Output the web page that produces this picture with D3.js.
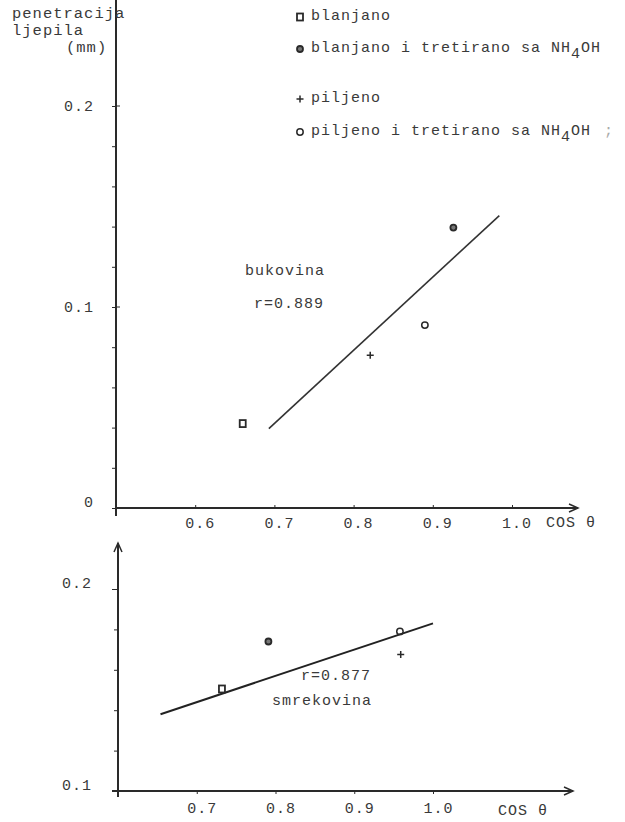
<!DOCTYPE html>
<html>
<head>
<meta charset="utf-8">
<script src="https://cdn.jsdelivr.net/npm/d3@7"></script>
<style>
  body { margin: 0; background: #fff; }
  svg text { font-family: "Liberation Mono", "DejaVu Sans Mono", monospace; fill: #3a3a3a; letter-spacing: 1px; }
  .axis path, .axis line { stroke: #2a2a2a; }
</style>
</head>
<body>
<div id="holder"></div>
<script>
// legend: marker type + label (subscript 4 in NH4OH)
const markerTypes = ["square", "dot", "plus", "ring"];
const legendLabels = ["blanjano", "blanjano i tretirano sa NH", "piljeno", "piljeno i tretirano sa NH"];
const legendHasSub = [false, true, false, true];

// bukovina (top panel)
const bukovinaX = [0.660, 0.926, 0.821, 0.890];
const bukovinaY = [0.042, 0.1395, 0.076, 0.091];
const bukovinaFitX = [0.693, 0.984];
const bukovinaFitY = [0.0395, 0.1455];

// smrekovina (bottom panel)
const smrekovinaX = [0.732, 0.791, 0.959, 0.958];
const smrekovinaY = [0.1505, 0.174, 0.1676, 0.179];
const smrekovinaFitX = [0.654, 1.0];
const smrekovinaFitY = [0.138, 0.183];

// ticks
const topXTicks = [0.6, 0.7, 0.8, 0.9, 1.0];
const topYMajor = [0, 0.1, 0.2];
const topYMinor = [0.02, 0.04, 0.06, 0.08, 0.12, 0.14, 0.16, 0.18];
const botXTicks = [0.7, 0.8, 0.9, 1.0];
const botYMajor = [0.1, 0.2];
const botYMinor = [0.12, 0.14, 0.16, 0.18];

const w = 625, h = 822;
const svg = d3.select('#holder').append('svg').attr('width', w).attr('height', h);

const fs = 15;

function drawMarker(g, type, x, y) {
    if (type === "square") {
        g.append('rect').attr('x', x - 3).attr('y', y - 3.5).attr('width', 6).attr('height', 7)
            .attr('fill', 'none').attr('stroke', '#2a2a2a').attr('stroke-width', 1.8);
    } else if (type === "dot") {
        g.append('circle').attr('cx', x).attr('cy', y).attr('r', 3)
            .attr('fill', '#777').attr('stroke', '#2a2a2a').attr('stroke-width', 1.8);
    } else if (type === "plus") {
        g.append('path').attr('d', `M${x - 3.5},${y}H${x + 3.5}M${x},${y - 3.5}V${y + 3.5}`)
            .attr('stroke', '#2a2a2a').attr('stroke-width', 1.5);
    } else {
        g.append('circle').attr('cx', x).attr('cy', y).attr('r', 3.2)
            .attr('fill', 'none').attr('stroke', '#2a2a2a').attr('stroke-width', 1.5);
    }
}

function arrowRight(x, y) {
    svg.append('path').attr('d', `M${x - 9},${y - 4}L${x},${y}L${x - 9},${y + 4}`)
        .attr('fill', 'none').attr('stroke', '#2a2a2a').attr('stroke-width', 1.5);
}
function arrowUp(x, y) {
    svg.append('path').attr('d', `M${x - 4},${y + 9}L${x},${y}L${x + 4},${y + 9}`)
        .attr('fill', 'none').attr('stroke', '#2a2a2a').attr('stroke-width', 1.5);
}

// ---------- top panel ----------
const xTop = d3.scaleLinear().domain([0.5, 1.0]).range([116, 512]);
const yTop = d3.scaleLinear().domain([0, 0.2]).range([508, 106]);

// axes lines
svg.append('line').attr('x1', 116).attr('x2', 578).attr('y1', yTop(0)).attr('y2', yTop(0))
    .attr('stroke', '#2a2a2a').attr('stroke-width', 2);
arrowRight(578, yTop(0));
svg.append('line').attr('x1', 116).attr('x2', 116).attr('y1', 0).attr('y2', yTop(0) + 8)
    .attr('stroke', '#2a2a2a').attr('stroke-width', 2);

svg.append('g').attr('class', 'axis').attr('transform', `translate(0,${yTop(0)})`)
    .call(d3.axisTop(xTop).tickValues(topXTicks).tickSize(3).tickFormat(''))
    .call(g => g.select('.domain').remove());
svg.append('g').attr('transform', `translate(0,${yTop(0)})`)
    .selectAll('text').data(topXTicks).enter().append('text')
    .attr('x', d => xTop(d) + 5).attr('y', 20)
    .attr('text-anchor', 'middle').style('font-size', fs + 'px')
    .text(d => d3.format('.1f')(d));

svg.append('g').attr('class', 'axis').attr('transform', 'translate(116,0)')
    .call(d3.axisLeft(yTop).tickValues(topYMinor).tickSize(4).tickFormat(''))
    .call(g => g.select('.domain').remove());
svg.append('g').attr('class', 'axis').attr('transform', 'translate(116,0)')
    .call(d3.axisLeft(yTop).tickValues(topYMajor).tickSizeInner(4).tickSizeOuter(0).tickPadding(18)
        .tickFormat(d => d === 0 ? '0' : d3.format('.1f')(d)))
    .call(g => g.select('.domain').remove())
    .call(g => g.selectAll('.tick text').style('font-size', fs + 'px').attr('fill', '#3a3a3a')
        .attr('font-family', null))
    .call(g => g.selectAll('.tick').filter(d => d === 0).select('text').attr('dy', '-0.1em'));
svg.append('g').selectAll('line').data([0.1, 0.2]).enter().append('line')
    .attr('x1', 116).attr('x2', 120).attr('y1', d => yTop(d)).attr('y2', d => yTop(d))
    .attr('stroke', '#2a2a2a');

svg.append('text').attr('x', 546).attr('y', 527).style('font-size', fs + 'px').text('COS θ');

// axis title
const ttl = svg.append('g');
ttl.append('text').attr('x', 12).attr('y', 18).style('font-size', '15.5px').text('penetracija');
ttl.append('text').attr('x', 12).attr('y', 35).style('font-size', '15.5px').text('ljepila');
ttl.append('text').attr('x', 66).attr('y', 52).style('font-size', '15.5px').text('(mm)');

// legend
const legendY = [15, 47, 97, 130];
const legend = svg.append('g');
markerTypes.forEach((t, i) => {
    drawMarker(legend, t, 300, legendY[i] + 2);
    const tx = legend.append('text').attr('x', 311).attr('y', legendY[i] + 5)
        .style('font-size', fs + 'px').text(legendLabels[i]);
    if (legendHasSub[i]) {
        tx.append('tspan').attr('dy', 6).text('4');
        tx.append('tspan').attr('dy', -6).text('OH');
    }
    if (i === 3) {
        legend.append('text').attr('x', 604).attr('y', legendY[i] + 5)
            .style('font-size', fs + 'px').style('fill', '#aaa').text(';');
    }
});

// fit line + points
svg.append('line')
    .attr('x1', xTop(bukovinaFitX[0])).attr('y1', yTop(bukovinaFitY[0]))
    .attr('x2', xTop(bukovinaFitX[1])).attr('y2', yTop(bukovinaFitY[1]))
    .attr('stroke', '#333').attr('stroke-width', 1.6);
const ptsTop = svg.append('g');
bukovinaX.forEach((x, i) => drawMarker(ptsTop, markerTypes[i], xTop(x), yTop(bukovinaY[i])));

svg.append('text').attr('x', 245).attr('y', 275).style('font-size', fs + 'px').text('bukovina');
svg.append('text').attr('x', 254).attr('y', 308).style('font-size', fs + 'px').text('r=0.889');

// ---------- bottom panel ----------
const xBot = d3.scaleLinear().domain([0.6, 1.0]).range([118, 433]);
const yBot = d3.scaleLinear().domain([0.1, 0.2]).range([791, 589]);

svg.append('line').attr('x1', 112).attr('x2', 573).attr('y1', yBot(0.1)).attr('y2', yBot(0.1))
    .attr('stroke', '#2a2a2a').attr('stroke-width', 2);
arrowRight(573, yBot(0.1));
svg.append('line').attr('x1', 118).attr('x2', 118).attr('y1', 543).attr('y2', yBot(0.1) + 6)
    .attr('stroke', '#2a2a2a').attr('stroke-width', 2);
arrowUp(118, 543);

svg.append('g').attr('class', 'axis').attr('transform', `translate(0,${yBot(0.1)})`)
    .call(d3.axisBottom(xBot).tickValues(botXTicks).tickSize(3).tickPadding(8)
        .tickFormat(d => d3.format('.1f')(d)))
    .call(g => g.select('.domain').remove())
    .call(g => g.selectAll('.tick text').style('font-size', fs + 'px').attr('fill', '#3a3a3a')
        .attr('font-family', null).attr('dx', 5));

svg.append('g').attr('class', 'axis').attr('transform', 'translate(118,0)')
    .call(d3.axisLeft(yBot).tickValues(botYMinor).tickSize(4).tickFormat(''))
    .call(g => g.select('.domain').remove());
svg.append('g').attr('class', 'axis').attr('transform', 'translate(118,0)')
    .call(d3.axisLeft(yBot).tickValues(botYMajor).tickSize(6).tickPadding(20)
        .tickFormat(d => d3.format('.1f')(d)))
    .call(g => g.select('.domain').remove())
    .call(g => g.selectAll('.tick text').style('font-size', fs + 'px').attr('fill', '#3a3a3a')
        .attr('font-family', null).attr('dy', '-0.1em'));

svg.append('text').attr('x', 498).attr('y', 815).style('font-size', fs + 'px').text('COS θ');

svg.append('line')
    .attr('x1', xBot(smrekovinaFitX[0])).attr('y1', yBot(smrekovinaFitY[0]))
    .attr('x2', xBot(smrekovinaFitX[1])).attr('y2', yBot(smrekovinaFitY[1]))
    .attr('stroke', '#222').attr('stroke-width', 2);
const ptsBot = svg.append('g');
smrekovinaX.forEach((x, i) => drawMarker(ptsBot, markerTypes[i], xBot(x), yBot(smrekovinaY[i])));

svg.append('text').attr('x', 301).attr('y', 680).style('font-size', fs + 'px').text('r=0.877');
svg.append('text').attr('x', 272).attr('y', 705).style('font-size', fs + 'px').text('smrekovina');
</script>
</body>
</html>
